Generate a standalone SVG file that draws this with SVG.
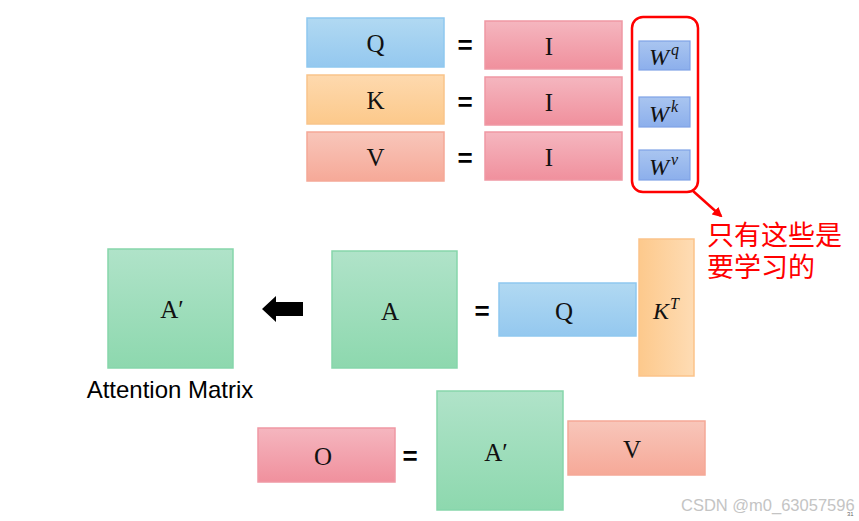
<svg xmlns="http://www.w3.org/2000/svg" width="859" height="521" viewBox="0 0 859 521">
<defs>
<linearGradient id="gBlue" x1="0" y1="0" x2="0" y2="1"><stop offset="0" stop-color="#b1d9f2"/><stop offset="1" stop-color="#94c8ef"/></linearGradient>
<linearGradient id="gOrange" x1="0" y1="0" x2="0" y2="1"><stop offset="0" stop-color="#fed9ae"/><stop offset="1" stop-color="#fcc98b"/></linearGradient>
<linearGradient id="gSalmon" x1="0" y1="0" x2="0" y2="1"><stop offset="0" stop-color="#f8c6ba"/><stop offset="1" stop-color="#f6a998"/></linearGradient>
<linearGradient id="gPink" x1="0" y1="0" x2="0" y2="1"><stop offset="0" stop-color="#f5b6bf"/><stop offset="1" stop-color="#f0909d"/></linearGradient>
<linearGradient id="gW" x1="0" y1="0" x2="0" y2="1"><stop offset="0" stop-color="#a9c5f0"/><stop offset="1" stop-color="#8cafec"/></linearGradient>
<linearGradient id="gGreen" x1="0" y1="0" x2="0" y2="1"><stop offset="0" stop-color="#b0e3c9"/><stop offset="1" stop-color="#8dd8ae"/></linearGradient>
<linearGradient id="gKT" x1="0" y1="0" x2="1" y2="0"><stop offset="0" stop-color="#fdc98c"/><stop offset="1" stop-color="#fedcb4"/></linearGradient>
<marker id="redHead" markerWidth="10" markerHeight="10" refX="8" refY="5" orient="auto" markerUnits="userSpaceOnUse"><path d="M0,0 L10,5 L0,10 z" fill="#ff0000"/></marker>
</defs>
<style>
.blue{fill:url(#gBlue);stroke:#8fc8ef;stroke-width:1.5}
.orange{fill:url(#gOrange);stroke:#f9c48a;stroke-width:1.5}
.salmon{fill:url(#gSalmon);stroke:#f5a897;stroke-width:1.5}
.pink{fill:url(#gPink);stroke:#ef98a4;stroke-width:1.5}
.w{fill:url(#gW);stroke:#7fa2e6;stroke-width:1.2}
.green{fill:url(#gGreen);stroke:#86d6ab;stroke-width:1.5}
.kt{fill:url(#gKT);stroke:#fbc38a;stroke-width:1.5}
.lbl{font-family:"Liberation Serif",serif;font-size:25px;fill:#111;text-anchor:middle}
.math{font-family:"Liberation Serif",serif;font-style:italic;fill:#111}
.eq{font-family:"Liberation Sans",sans-serif;font-weight:bold;font-size:26px;fill:#000;text-anchor:middle}
.zh{font-family:"Noto Sans CJK SC",sans-serif;font-size:27px;fill:#ff0000}
</style>
<rect width="859" height="521" fill="#ffffff"/>

<g id="Q1"><rect class="blue" x="307" y="18" width="137" height="49"/><text class="lbl" x="375.5" y="52">Q</text></g>
<g id="K1"><rect class="orange" x="307" y="75" width="137" height="49"/><text class="lbl" x="375.5" y="109">K</text></g>
<g id="V1"><rect class="salmon" x="307" y="132" width="137" height="49"/><text class="lbl" x="375.5" y="166">V</text></g>
<text class="eq" x="465" y="54">=</text>
<text class="eq" x="465" y="111">=</text>
<text class="eq" x="465" y="167">=</text>
<g id="I1"><rect class="pink" x="485" y="21" width="137" height="48"/><text class="lbl" x="549" y="55">I</text></g>
<g id="I2"><rect class="pink" x="485" y="77" width="137" height="48"/><text class="lbl" x="549" y="111">I</text></g>
<g id="I3"><rect class="pink" x="485" y="132" width="137" height="48"/><text class="lbl" x="549" y="166">I</text></g>

<g id="learn">
<rect x="632" y="17" width="66" height="175" rx="11" fill="none" stroke="#ff0000" stroke-width="2.5"/>
<g id="Wq"><rect class="w" x="639" y="41" width="51" height="29"/><text class="math" x="649" y="65" font-size="24">W<tspan font-size="16" dx="2" dy="-10">q</tspan></text></g>
<g id="Wk"><rect class="w" x="639" y="97" width="51" height="30"/><text class="math" x="649" y="122" font-size="24">W<tspan font-size="16" dx="2" dy="-10">k</tspan></text></g>
<g id="Wv"><rect class="w" x="639" y="150" width="51" height="30"/><text class="math" x="649" y="175" font-size="24">W<tspan font-size="16" dx="2" dy="-10">v</tspan></text></g>
</g>
<g id="connectors">
<line x1="693" y1="191" x2="721" y2="216" stroke="#ff0000" stroke-width="2.5" marker-end="url(#redHead)"/>
<polygon points="262,309 276,296 276,302 303,302 303,316 276,316 276,322" fill="#000"/>
</g>
<g id="note"><text class="zh" x="707" y="245">只有这些是</text><text class="zh" x="707" y="277">要学习的</text></g>

<g id="Aprime1"><rect class="green" x="108" y="249" width="125" height="119"/><text class="lbl" x="172" y="318">A′</text></g>
<text x="170" y="398" font-family="'Liberation Sans',sans-serif" font-size="24" fill="#000" text-anchor="middle">Attention Matrix</text>
<g id="A"><rect class="green" x="332" y="251" width="125" height="117"/><text class="lbl" x="390" y="320">A</text></g>
<text class="eq" x="482" y="320">=</text>
<g id="Q2"><rect class="blue" x="499" y="283" width="137" height="53"/><text class="lbl" x="564" y="320">Q</text></g>
<g id="KT"><rect class="kt" x="639" y="239" width="55" height="137"/><text class="math" x="653" y="319" font-size="24">K<tspan font-size="16" dx="1" dy="-10">T</tspan></text></g>

<g id="O"><rect class="pink" x="258" y="428" width="137" height="54"/><text class="lbl" x="323" y="465">O</text></g>
<text class="eq" x="410" y="465">=</text>
<g id="Aprime2"><rect class="green" x="437" y="391" width="126" height="119"/><text class="lbl" x="496" y="461">A′</text></g>
<g id="V2"><rect class="salmon" x="568" y="421" width="137" height="54"/><text class="lbl" x="632" y="458">V</text></g>

<text x="681" y="511" font-family="'Liberation Sans',sans-serif" font-size="16.5" fill="#c4c4c4">CSDN @m0_63057596</text>
<text x="847" y="516" font-family="'Liberation Sans',sans-serif" font-size="6" fill="#666">31</text>
</svg>
